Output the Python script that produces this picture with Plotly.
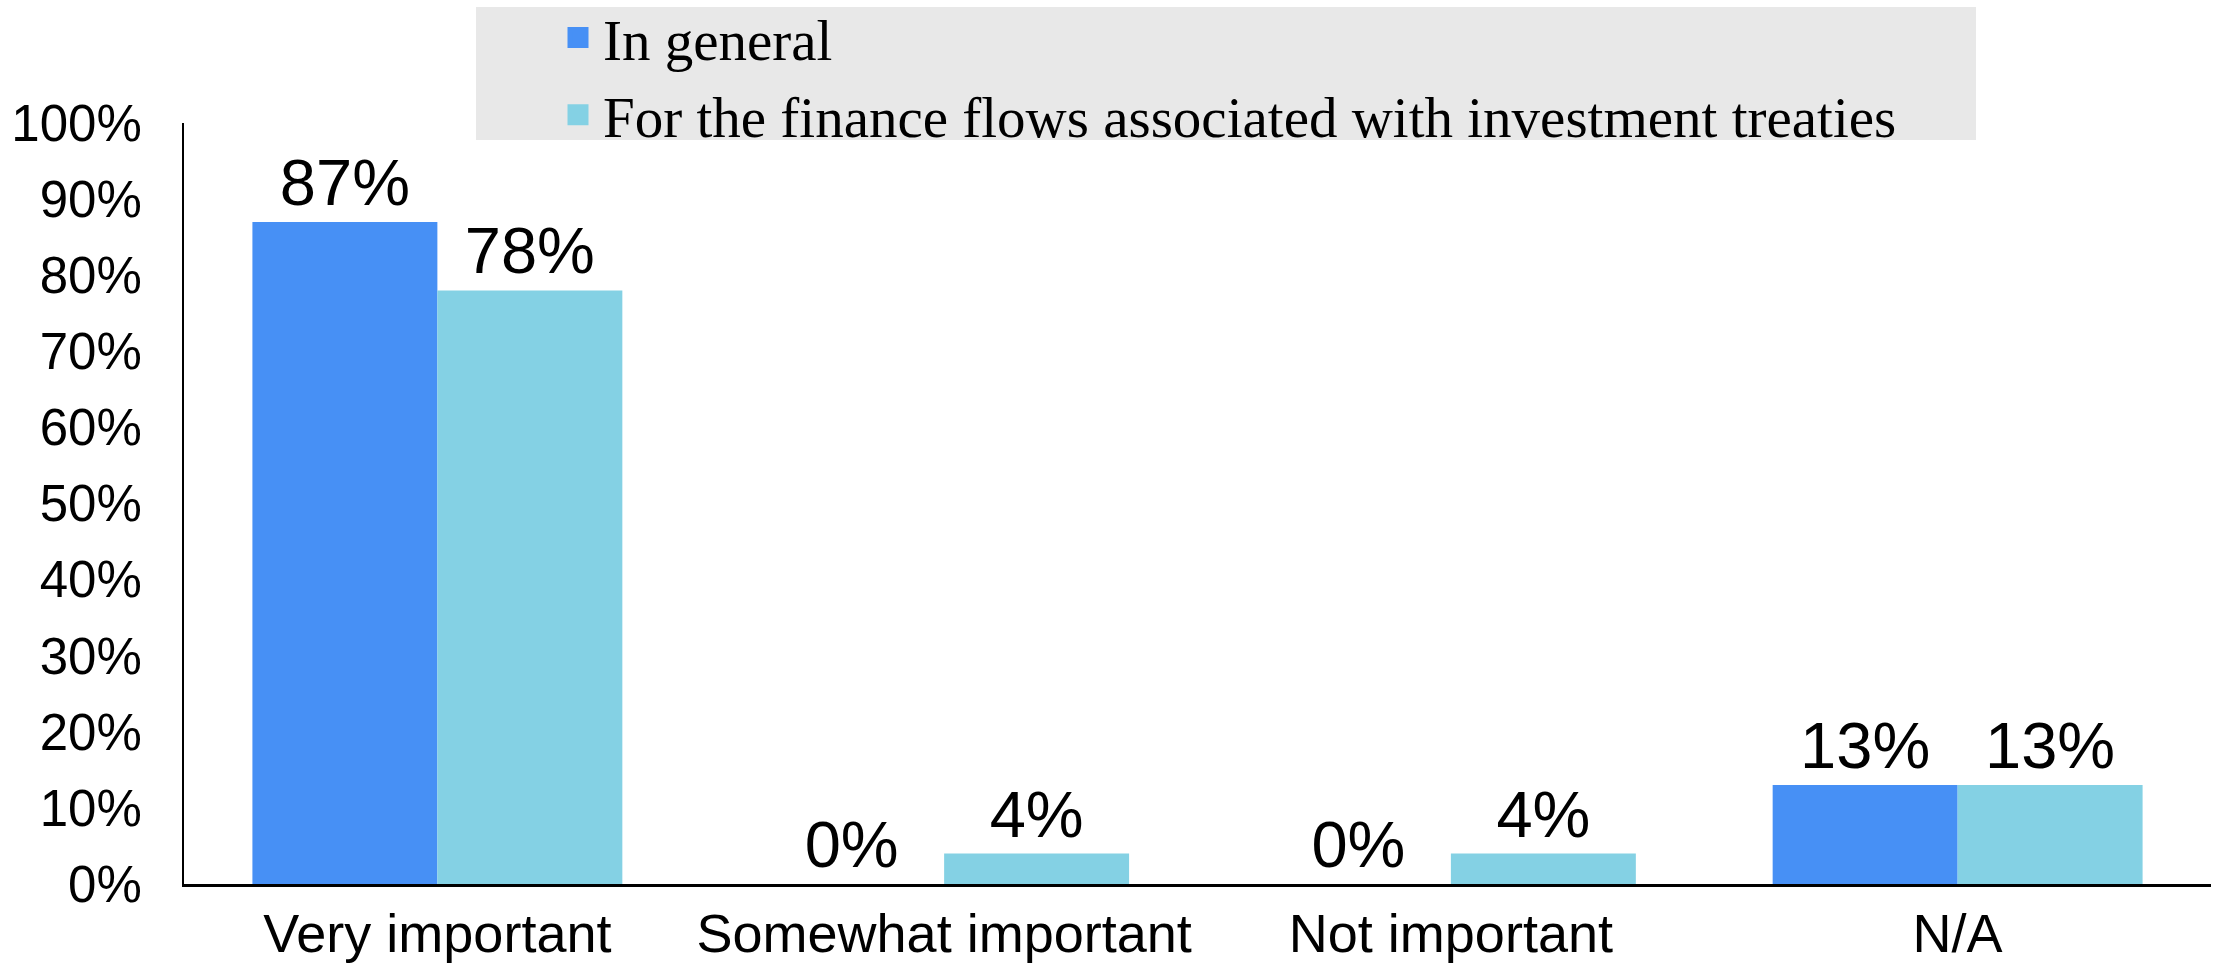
import plotly.graph_objects as go

# Survey responses: importance rating
categories = ["Very important", "Somewhat important", "Not important", "N/A"]
in_general = [0.87, 0.00, 0.00, 0.13]
finance_flows = [0.78, 0.04, 0.04, 0.13]
series_names = ["In general", "For the finance flows associated with investment treaties"]
series_colors = ["#4790F5", "#84D1E4"]
y_ticks = [i / 10 for i in range(11)]

W, H = 2214, 964
M_L, M_R, M_T, M_B = 184, 3, 123, 80
sans = "Liberation Sans, Arial, sans-serif"
serif = "Liberation Serif, Times New Roman, serif"

fig = go.Figure()
for name, vals, col in zip(series_names, [in_general, finance_flows], series_colors):
    fig.add_trace(go.Bar(
        x=categories, y=vals, name=name, marker_color=col,
        marker_line_width=0,
        texttemplate="%{y:.0%}", textposition="outside",
        textfont=dict(family=sans, size=65, color="black"),
        cliponaxis=False, showlegend=False,
    ))
    # legend proxy with a larger square swatch
    fig.add_trace(go.Scatter(
        x=[None], y=[None], mode="markers", name=name,
        marker=dict(symbol="square", size=16, color=col,
                    line=dict(width=5, color=col)),
    ))

pw = W - M_L - M_R
ph = H - M_T - M_B
def px_x(v):
    return (v - M_L) / pw
def px_y(v):
    return (H - M_B - v) / ph

# grey legend panel
fig.add_shape(type="rect", xref="paper", yref="paper",
              x0=px_x(476), x1=px_x(1976), y0=px_y(140), y1=px_y(7),
              fillcolor="#E8E8E8", line_width=0, layer="below")

fig.update_layout(
    width=W, height=H,
    margin=dict(l=M_L, r=M_R, t=M_T, b=M_B, pad=0, autoexpand=False),
    plot_bgcolor="white", paper_bgcolor="white",
    barmode="group", bargap=0.27, bargroupgap=0,
    legend=dict(
        x=px_x(553), y=px_y(-6), xanchor="left", yanchor="top",
        bgcolor="rgba(0,0,0,0)", borderwidth=0,
        font=dict(family=serif, size=57, color="black"),
        itemsizing="trace", itemwidth=40, tracegroupgap=0,
    ),
    xaxis=dict(
        showline=True, linecolor="black", linewidth=3,
        showgrid=False, ticks="", zeroline=False, automargin=False,
        tickfont=dict(family=sans, size=54, color="black"),
        ticklabelstandoff=0,
    ),
    yaxis=dict(
        range=[0, 1], tickvals=y_ticks, tickformat=".0%",
        showline=True, linecolor="black", linewidth=2,
        showgrid=False, ticks="", zeroline=False, automargin=False,
        tickfont=dict(family=sans, size=51, color="black"),
        ticklabelstandoff=30,
    ),
)

fig.write_html("out.html")
